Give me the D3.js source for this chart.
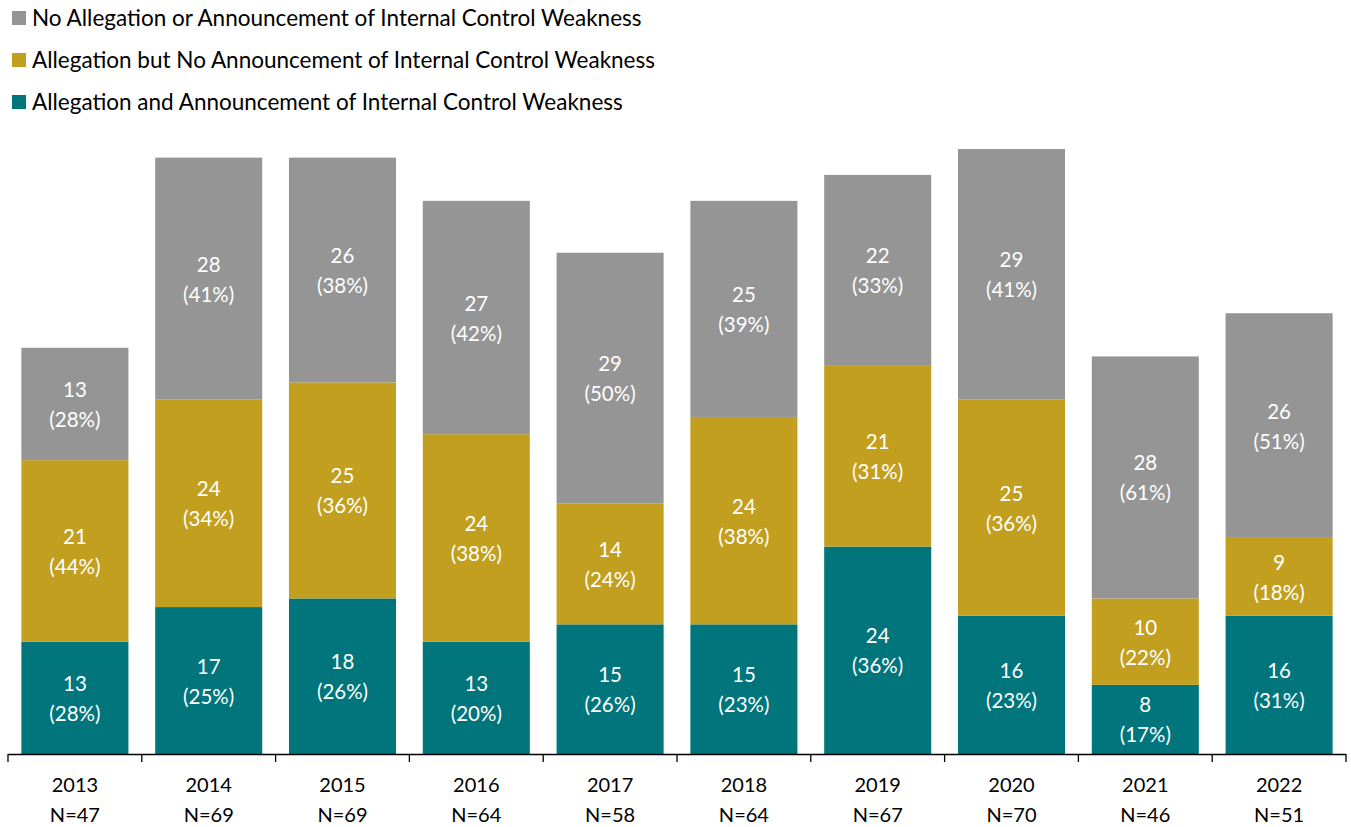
<!DOCTYPE html>
<html lang="en">
<head>
<meta charset="UTF-8">
<title>Internal Control Weakness</title>
<script src="https://cdn.jsdelivr.net/npm/d3@7"></script>
<style>
    body { margin: 0; background: #fff; }
    svg { display: block; font-family: Lato, "Noto Sans", sans-serif; }
</style>
</head>
<body>
<div id="chart"></div>
<script>
"use strict";

var years = ["2013", "2014", "2015", "2016", "2017", "2018", "2019", "2020", "2021", "2022"];
var totals = [47, 69, 69, 64, 58, 64, 67, 70, 46, 51];

var bothCounts = [13, 17, 18, 13, 15, 15, 24, 16, 8, 16];
var bothPct = [28, 25, 26, 20, 26, 23, 36, 23, 17, 31];
var allegCounts = [21, 24, 25, 24, 14, 24, 21, 25, 10, 9];
var allegPct = [44, 34, 36, 38, 24, 38, 31, 36, 22, 18];
var noneCounts = [13, 28, 26, 27, 29, 25, 22, 29, 28, 26];
var nonePct = [28, 41, 38, 42, 50, 39, 33, 41, 61, 51];

var seriesNames = [
    "No Allegation or Announcement of Internal Control Weakness",
    "Allegation but No Announcement of Internal Control Weakness",
    "Allegation and Announcement of Internal Control Weakness"
];

(function () {
    var width = 1351, height = 827;
    var baseY = 754;

    var svg = d3.select("#chart").append("svg")
        .attr("width", width)
        .attr("height", height);

    // stacking order bottom -> top
    var series = [
        { name: seriesNames[2], counts: bothCounts, pct: bothPct, color: "#00767c" },
        { name: seriesNames[1], counts: allegCounts, pct: allegPct, color: "#c29f1f" },
        { name: seriesNames[0], counts: noneCounts, pct: nonePct, color: "#959595" }
    ];

    var x = d3.scaleBand()
        .domain(years)
        .range([8, 1346])
        .paddingInner(0.2)
        .paddingOuter(0.1);

    var y = d3.scaleLinear()
        .domain([0, 70])
        .range([baseY, baseY - 605]);

    var rows = years.map(function (yr, i) {
        var o = { year: yr };
        series.forEach(function (s, k) { o["s" + k] = s.counts[i]; });
        return o;
    });

    var stack = d3.stack().keys(series.map(function (s, k) { return "s" + k; }));
    var layers = stack(rows);

    var g = svg.append("g");

    layers.forEach(function (layer, k) {
        var s = series[k];
        var grp = g.append("g");
        grp.selectAll("rect")
            .data(layer)
            .join("rect")
            .attr("x", function (d) { return x(d.data.year); })
            .attr("width", x.bandwidth())
            .attr("y", function (d) { return y(d[1]); })
            .attr("height", function (d) { return y(d[0]) - y(d[1]); })
            .attr("fill", s.color);

        var lab = grp.selectAll("text")
            .data(layer)
            .join("text")
            .attr("text-anchor", "middle")
            .attr("fill", "#fff")
            .attr("font-size", 20.5);

        lab.append("tspan")
            .attr("x", function (d) { return x(d.data.year) + x.bandwidth() / 2; })
            .attr("y", function (d) { return (y(d[0]) + y(d[1])) / 2 - 7; })
            .text(function (d, i) { return s.counts[i]; });

        lab.append("tspan")
            .attr("x", function (d) { return x(d.data.year) + x.bandwidth() / 2; })
            .attr("y", function (d) { return (y(d[0]) + y(d[1])) / 2 + 23; })
            .text(function (d, i) { return "(" + s.pct[i] + "%)"; });
    });

    // x axis
    var axis = svg.append("g");
    axis.append("line")
        .attr("x1", 8).attr("x2", 1346)
        .attr("y1", baseY + 0.5).attr("y2", baseY + 0.5)
        .attr("stroke", "#000").attr("stroke-width", 1.3);

    var step = x.step();
    var bounds = d3.range(years.length + 1).map(function (i) {
        return 8 + i * step;
    });
    axis.selectAll("line.tick")
        .data(bounds)
        .join("line")
        .attr("class", "tick")
        .attr("x1", function (d) { return d; })
        .attr("x2", function (d) { return d; })
        .attr("y1", baseY)
        .attr("y2", baseY + 8)
        .attr("stroke", "#000").attr("stroke-width", 1.3);

    var xl = axis.selectAll("text.xl")
        .data(years)
        .join("text")
        .attr("class", "xl")
        .attr("text-anchor", "middle")
        .attr("fill", "#000")
        .attr("font-size", 20);
    xl.append("tspan")
        .attr("x", function (d) { return x(d) + x.bandwidth() / 2; })
        .attr("y", 792)
        .text(function (d) { return d; });
    xl.append("tspan")
        .attr("x", function (d) { return x(d) + x.bandwidth() / 2; })
        .attr("y", 822)
        .text(function (d, i) { return "N=" + totals[i]; });

    // legend
    var legendItems = [series[2], series[1], series[0]];
    var leg = svg.append("g")
        .selectAll("g")
        .data(legendItems)
        .join("g")
        .attr("transform", function (d, i) { return "translate(12," + (11 + i * 42) + ")"; });
    leg.append("rect")
        .attr("width", 14).attr("height", 14)
        .attr("fill", function (d) { return d.color; });
    leg.append("text")
        .attr("x", 20)
        .attr("y", 15)
        .attr("font-size", 22.5)
        .attr("fill", "#000")
        .text(function (d) { return d.name; });
})();
</script>
</body>
</html>
